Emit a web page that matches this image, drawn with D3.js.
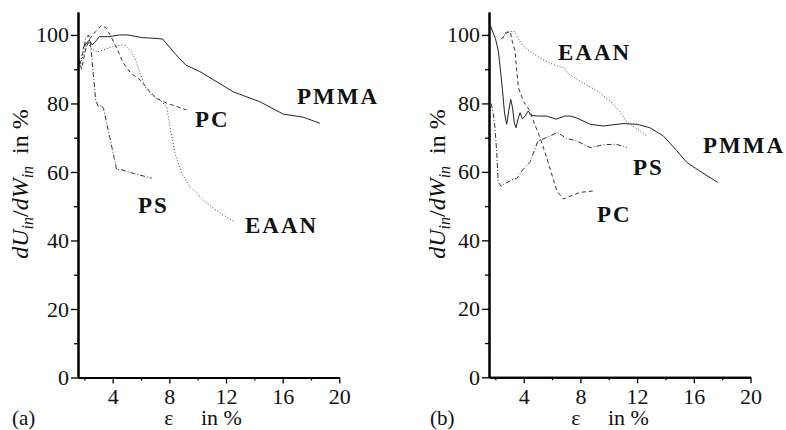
<!DOCTYPE html>
<html><head><meta charset="utf-8">
<script src="https://cdn.jsdelivr.net/npm/d3@7"></script>
<style>
html,body{margin:0;padding:0;background:#fff;}
svg{display:block;font-family:"Liberation Serif","Times New Roman",serif;}
</style></head>
<body>
<script>
// ---- data ----
const xMajor = [4, 8, 12, 16, 20];
const xMinor = [2, 6, 10, 14, 18];
const yMajor = [0, 20, 40, 60, 80, 100];
const yMinor = [10, 30, 50, 70, 90];
const seriesNames = ["PMMA", "PC", "PS", "EAAN"];
const panelNames = ["(a)", "(b)"];

// panel (a)
const aPMMA = [[1.9,96],[2.1,97.4],[2.35,98.5],[2.54,97.1],[2.77,98.0],[3.05,99.5],[3.76,99.5],[4.47,100],[5.06,100],[6.12,99.2],[7.06,99.0],[7.53,98.8],[8.47,94.2],[9.17,91.2],[10.16,89.3],[12.51,83.4],[14.39,80.5],[16.04,76.9],[17.45,76.0],[18.63,74.2]];
const aPC = [[1.6,93],[1.8,90],[2.1,96],[2.4,99],[2.8,101],[3.2,102.8],[3.55,102],[3.88,99.5],[4.11,97.6],[4.35,95.6],[4.7,92.2],[4.94,90.7],[5.29,88.8],[5.93,86.9],[6.63,83.4],[7.1,81.5],[7.81,80.1],[8.52,79.1],[9.22,78.1]];
const aPS = [[1.65,91],[1.9,95],[2.1,99],[2.3,100],[2.47,96],[2.63,88.5],[2.8,81],[3.0,79],[3.2,79.5],[3.35,78.5],[3.8,70],[4.28,60.6],[4.51,60.8],[5.45,59.6],[6.75,58.2]];
const aEAAN = [[1.6,89],[1.9,94],[2.2,98],[2.5,96],[2.9,95],[3.29,95.6],[4.0,96.6],[4.7,97.1],[4.94,96.9],[5.29,95.1],[5.6,92.7],[5.93,88.8],[6.28,84.9],[6.75,82.5],[7.46,80.5],[7.81,79.1],[8.04,73.2],[8.4,65.5],[8.87,59.6],[9.45,55.7],[10.63,50.9],[11.8,47.4],[12.6,45.5]];

// panel (b)
const bPMMA = [[1.62,103],[2.0,99],[2.2,95.5],[2.35,90],[2.5,84],[2.65,77],[2.8,73.9],[2.95,78],[3.08,81.2],[3.2,79],[3.35,74],[3.46,72.9],[3.6,75.5],[3.74,77.3],[3.9,75.5],[4.05,76],[4.32,77.8],[4.5,76.5],[5.0,76.3],[5.6,76.3],[6.3,75.4],[6.9,76.3],[7.3,76.3],[7.7,75.8],[8.7,73.9],[9.6,73.4],[11.0,74.1],[12.0,73.9],[12.9,72.9],[13.85,70.5],[14.8,66.2],[15.5,62.8],[16.4,60.3],[17.7,56.9]];
const bPC = [[2.4,98.7],[2.75,100.5],[3.05,101],[3.2,98],[3.39,95.3],[3.5,90],[3.62,84.6],[4.0,80.5],[4.44,77.8],[4.68,74.9],[5.15,70],[5.62,64.2],[6.33,54.5],[6.8,52.1],[7.97,54],[9.03,54.5]];
const bPS = [[1.7,80],[1.85,77],[1.97,73],[2.09,66],[2.2,57],[2.4,55.8],[2.8,56.9],[3.3,57.9],[3.5,58],[3.97,60.8],[4.44,62.8],[5.0,69],[5.6,70],[6.4,71.5],[7.0,69.8],[7.7,69.1],[8.7,67.1],[9.6,67.9],[10.5,68.1],[11.3,67.1]];
const bEAAN = [[2.55,99],[2.75,101],[3.34,101],[3.6,99],[3.93,96.9],[4.5,95],[5.12,93.3],[6.05,91.4],[6.79,90.4],[7.22,88.5],[8.17,86],[9.12,83.8],[10.09,80.7],[10.8,77.5],[11.27,74.6],[12.2,72],[12.68,70.5]];

// ---- layout ----
const W = 786, H = 430;
const styles = {
  PMMA: {dash: null, color: "#222"},
  PC:   {dash: "4,3", color: "#333"},
  PS:   {dash: "5,2,1,2", color: "#333"},
  EAAN: {dash: "1,2", color: "#444"}
};
const panels = [
  {name: panelNames[0], x0: 78, x1: 339.3, yBottom: 377.5, yTop: 12,
   series: {PMMA: aPMMA, PC: aPC, PS: aPS, EAAN: aEAAN},
   labels: {PMMA: [297,104], PC: [195,127], PS: [138,213], EAAN: [245,233]},
   yLabelX: 28, xLabelX: 203, panelLabelX: 12},
  {name: panelNames[1], x0: 489, x1: 750.5, yBottom: 377.3, yTop: 12,
   series: {PMMA: bPMMA, PC: bPC, PS: bPS, EAAN: bEAAN},
   labels: {PMMA: [703,153], PC: [597,222], PS: [633,175], EAAN: [558,60]},
   yLabelX: 445, xLabelX: 610, panelLabelX: 430}
];

const svg = d3.select("body").append("svg").attr("width", W).attr("height", H);

panels.forEach(p => {
  const x = d3.scaleLinear().domain([1.55, 20]).range([p.x0, p.x1]);
  const y = d3.scaleLinear().domain([0, 106.7]).range([p.yBottom, p.yTop]);
  const g = svg.append("g");

  // curves
  const line = d3.line().x(d => x(d[0])).y(d => y(d[1]));
  seriesNames.forEach(n => {
    g.append("path").datum(p.series[n])
      .attr("d", line).attr("fill", "none")
      .attr("stroke", styles[n].color).attr("stroke-width", 1)
      .attr("stroke-dasharray", styles[n].dash);
  });

  // axes
  const xAxis = d3.axisBottom(x).tickValues(xMajor).tickSize(6).tickSizeOuter(0).tickPadding(5).tickFormat(d3.format("d"));
  const xAxisMinor = d3.axisBottom(x).tickValues(xMinor).tickSize(3).tickSizeOuter(0).tickFormat("");
  const yAxis = d3.axisLeft(y).tickValues(yMajor).tickSize(7).tickSizeOuter(0).tickPadding(2).tickFormat(d3.format("d"));
  const yAxisMinor = d3.axisLeft(y).tickValues(yMinor).tickSize(4).tickSizeOuter(0).tickFormat("");

  [[xAxisMinor, "x"], [xAxis, "x"], [yAxisMinor, "y"], [yAxis, "y"]].forEach(([ax, t]) => {
    const a = g.append("g")
      .attr("transform", t === "x" ? `translate(0,${p.yBottom})` : `translate(${p.x0},0)`)
      .call(ax);
    a.select(".domain").attr("stroke", "#000").attr("stroke-width", 2);
    a.selectAll(".tick line").attr("stroke", "#000").attr("stroke-width", 1.3);
    a.selectAll("text").attr("font-family", "'Liberation Serif','Times New Roman',serif")
      .attr("font-size", 22).attr("fill", "#111");
  });

  // series labels
  seriesNames.forEach(n => {
    g.append("text").attr("x", p.labels[n][0]).attr("y", p.labels[n][1])
      .attr("font-size", 23).attr("font-weight", "bold").attr("letter-spacing", "2px")
      .attr("fill", "#111").text(n);
  });

  // y axis label
  const yl = g.append("text")
    .attr("transform", `translate(${p.yLabelX},184) rotate(-90)`)
    .attr("text-anchor", "middle").attr("font-size", 24).attr("fill", "#111");
  yl.append("tspan").attr("font-style", "italic").text("dU");
  yl.append("tspan").attr("font-style", "italic").attr("font-size", 16).attr("dy", 5).text("in");
  yl.append("tspan").attr("dy", -5).text("/");
  yl.append("tspan").attr("font-style", "italic").text("dW");
  yl.append("tspan").attr("font-style", "italic").attr("font-size", 16).attr("dy", 5).text("in");
  yl.append("tspan").attr("dy", -5).text("\u00a0 in %");

  // x axis label
  g.append("text").attr("x", p.xLabelX).attr("y", 425)
    .attr("text-anchor", "middle").attr("font-size", 22).attr("fill", "#111")
    .text("\u03b5\u00a0\u00a0\u00a0\u00a0 in %");

  // panel label
  g.append("text").attr("x", p.panelLabelX).attr("y", 425)
    .attr("font-size", 21).attr("fill", "#111").text(p.name);
});
</script>
</body></html>
